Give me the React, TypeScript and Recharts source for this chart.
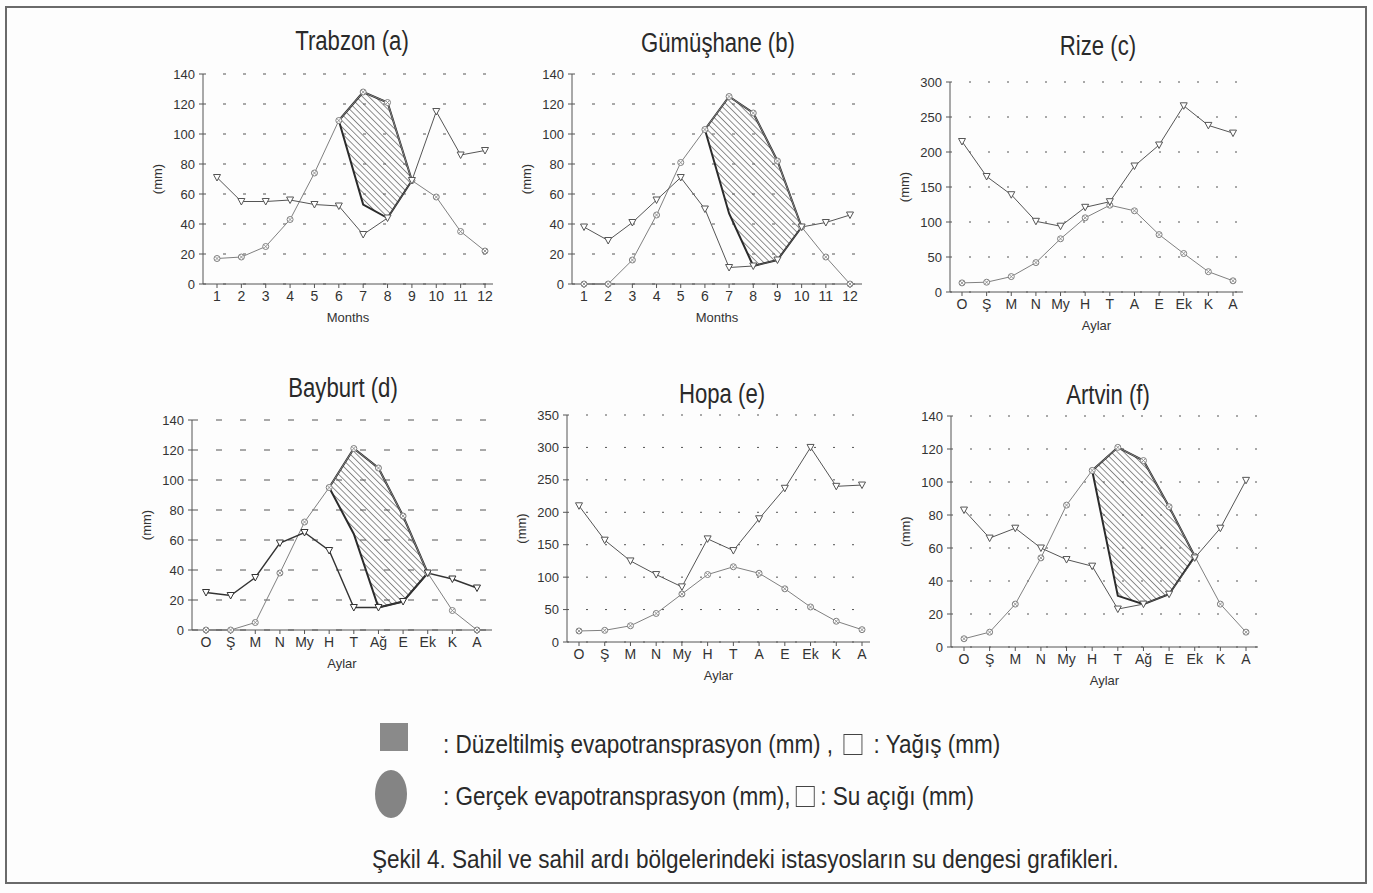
import { ComposedChart, Line, Area, XAxis, YAxis, CartesianGrid } from "recharts";

const MONTHS_NUM = ["1", "2", "3", "4", "5", "6", "7", "8", "9", "10", "11", "12"];
const AYLAR = ["O", "Ş", "M", "N", "My", "H", "T", "A", "E", "Ek", "K", "A"];
const AYLAR_AG = ["O", "Ş", "M", "N", "My", "H", "T", "Ağ", "E", "Ek", "K", "A"];

const TICKS_140 = [0, 20, 40, 60, 80, 100, 120, 140];
const TICKS_300 = [0, 50, 100, 150, 200, 250, 300];
const TICKS_350 = [0, 50, 100, 150, 200, 250, 300, 350];

// P = yağış, PET = düzeltilmiş evapotranspirasyon, AET = gerçek evapotranspirasyon
const TRABZON_P = [71, 55, 55, 56, 53, 52, 33, 44, 69, 115, 86, 89];
const TRABZON_PET = [17, 18, 25, 43, 74, 109, 128, 121, 69, 58, 35, 22];
const TRABZON_AET = [17, 18, 25, 43, 74, 109, 53, 44, 69, 58, 35, 22];

const GUMUS_P = [38, 29, 41, 56, 71, 50, 11, 12, 16, 38, 41, 46];
const GUMUS_PET = [0, 0, 16, 46, 81, 103, 125, 114, 82, 38, 18, 0];
const GUMUS_AET = [0, 0, 16, 46, 81, 103, 47, 12, 16, 38, 18, 0];

const RIZE_P = [215, 165, 139, 101, 94, 121, 129, 180, 210, 266, 238, 227];
const RIZE_PET = [13, 14, 22, 42, 76, 106, 124, 116, 82, 55, 29, 16];

const BAYBURT_P = [25, 23, 35, 58, 65, 53, 15, 15, 19, 38, 34, 28];
const BAYBURT_PET = [0, 0, 5, 38, 72, 95, 121, 108, 76, 38, 13, 0];
const BAYBURT_AET = [0, 0, 5, 38, 72, 95, 64, 15, 19, 38, 13, 0];

const HOPA_P = [210, 157, 125, 104, 85, 159, 141, 190, 237, 300, 240, 242];
const HOPA_PET = [17, 18, 25, 44, 74, 104, 116, 106, 82, 54, 32, 19];

const ARTVIN_P = [83, 66, 72, 60, 53, 49, 23, 26, 32, 54, 72, 101];
const ARTVIN_PET = [5, 9, 26, 54, 86, 107, 121, 113, 85, 55, 26, 9];
const ARTVIN_AET = [5, 9, 26, 54, 86, 107, 31, 26, 32, 55, 26, 9];

const SANS = "'Liberation Sans', Arial, sans-serif";

function TriDot({ cx, cy, color }: { cx?: number; cy?: number; color: string }) {
  if (cx == null || cy == null) return null;
  return (
    <path
      d={`M${cx - 3.5},${cy - 3} L${cx + 3.5},${cy - 3} L${cx},${cy + 3.5} Z`}
      fill="#fff"
      stroke={color}
      strokeWidth={1}
    />
  );
}

function CrossDot({ cx, cy }: { cx?: number; cy?: number }) {
  if (cx == null || cy == null) return null;
  return (
    <g>
      <circle cx={cx} cy={cy} r={3} fill="#fff" stroke="#808080" strokeWidth={1} />
      <path d={`M${cx - 2},${cy - 2} L${cx + 2},${cy + 2} M${cx + 2},${cy - 2} L${cx - 2},${cy + 2}`} stroke="#808080" strokeWidth={0.8} />
    </g>
  );
}

type Box = { l: number; t: number; r: number; b: number };

// Liberation Sans squeezed horizontally, close to the Arial Narrow of the scan
function Narrow({
  children,
  left,
  top,
  size,
  squeeze = 0.82,
  center = false,
  width,
}: {
  children: React.ReactNode;
  left: number;
  top: number;
  size: number;
  squeeze?: number;
  center?: boolean;
  width?: number;
}) {
  return (
    <div
      style={{
        position: "absolute",
        left,
        top,
        width,
        textAlign: center ? "center" : "left",
        fontFamily: SANS,
        fontSize: size,
        lineHeight: `${Math.round(size * 1.3)}px`,
        color: "#2a2a2a",
        whiteSpace: "nowrap",
        transform: `scaleX(${squeeze})`,
        transformOrigin: center ? "50% 50%" : "0 50%",
      }}
    >
      {children}
    </div>
  );
}

function Panel({
  id,
  title,
  tx,
  ty,
  labels,
  xName,
  p,
  pet,
  aet,
  ticks,
  box,
  padL,
  padR,
  dash,
  pColor = "#555",
}: {
  id: string;
  title: string;
  tx: number;
  ty: number;
  labels: string[];
  xName: string;
  p: number[];
  pet: number[];
  aet?: number[];
  ticks: number[];
  box: Box;
  padL: number;
  padR: number;
  dash: string;
  pColor?: string;
}) {
  const ML = 56, MT = 14, MR = 6, XH = 38, MB = 6;
  const yMax = ticks[ticks.length - 1];
  const def = (i: number) => !!aet && i >= 0 && i < pet.length && pet[i] > aet[i];
  const data = labels.map((_, i) => ({
    i,
    p: p[i],
    pet: pet[i],
    band: aet && (def(i) || def(i - 1) || def(i + 1)) ? [aet[i], pet[i]] : null,
  }));

  return (
    <>
      <Narrow left={tx - 150} top={ty - 18} width={300} size={27} center>
        {title}
      </Narrow>
      <div style={{ position: "absolute", left: box.l - ML, top: box.t - MT }}>
        <ComposedChart
          width={box.r - box.l + ML + MR}
          height={box.b - box.t + MT + XH + MB}
          data={data}
          margin={{ top: MT, right: MR, left: 0, bottom: MB }}
        >
          <defs>
            <pattern id={`hatch-${id}`} patternUnits="userSpaceOnUse" width={4.5} height={4.5} patternTransform="rotate(-45)">
              <line x1={0} y1={0} x2={0} y2={4.5} stroke="#555" strokeWidth={1.3} />
            </pattern>
          </defs>
          <CartesianGrid vertical={false} stroke="#555" strokeDasharray={dash} />
          <XAxis
            dataKey="i"
            scale="point"
            interval={0}
            padding={{ left: padL, right: padR }}
            height={XH}
            tickSize={4}
            tickMargin={3}
            tickFormatter={(v: number) => labels[v]}
            tick={{ fontSize: 14, fill: "#333", fontFamily: SANS }}
            stroke="#555"
            label={{ value: xName, position: "insideBottom", offset: 0, fontSize: 13, fill: "#333", fontFamily: SANS }}
          />
          <XAxis
            xAxisId="top"
            orientation="top"
            dataKey="i"
            scale="point"
            height={0}
            tick={false}
            tickLine={false}
            stroke="#555"
          />
          <YAxis
            domain={[0, yMax]}
            ticks={ticks}
            interval={0}
            width={ML}
            tickSize={4}
            tickMargin={4}
            tick={{ fontSize: 13, fill: "#333", fontFamily: SANS }}
            stroke="#555"
            label={{
              content: (lp: any) => {
                const vb = lp.viewBox || {};
                const x = (vb.x ?? 0) + 10;
                const y = (vb.y ?? 0) + (vb.height ?? 0) / 2;
                return (
                  <text x={x} y={y} transform={`rotate(-90, ${x}, ${y})`} textAnchor="middle" dominantBaseline="central" fontSize={13} fill="#333" fontFamily={SANS}>
                    (mm)
                  </text>
                );
              },
            }}
          />
          <YAxis
            yAxisId="right"
            orientation="right"
            domain={[0, yMax]}
            allowDataOverflow
            width={0}
            tick={false}
            tickLine={false}
            stroke="#555"
          />
          <Line
            dataKey="pet"
            type="linear"
            stroke="#808080"
            strokeWidth={1}
            dot={(d: any) => <CrossDot key={`e${d.index}`} cx={d.cx} cy={d.cy} />}
            isAnimationActive={false}
          />
          <Line
            dataKey="p"
            type="linear"
            stroke={pColor}
            strokeWidth={pColor === "#555" ? 1 : 1.4}
            dot={(d: any) => <TriDot key={`p${d.index}`} cx={d.cx} cy={d.cy} color={pColor} />}
            isAnimationActive={false}
          />
          {aet && (
            <Area
              dataKey="band"
              type="linear"
              stroke="#2b2b2b"
              strokeWidth={2}
              fill={`url(#hatch-${id})`}
              fillOpacity={1}
              dot={false}
              activeDot={false}
              isAnimationActive={false}
            />
          )}
        </ComposedChart>
      </div>
    </>
  );
}

function Square({ size, ml, mr }: { size: number; ml: number; mr: number }) {
  return (
    <span
      style={{
        display: "inline-block",
        width: size,
        height: size,
        border: "1.5px solid #444",
        verticalAlign: "-2px",
        marginLeft: ml,
        marginRight: mr,
        boxSizing: "border-box",
      }}
    />
  );
}

export default function App() {
  return (
    <div style={{ position: "absolute", left: 0, top: 0, width: 1373, height: 893, background: "#fdfdfd", overflow: "hidden" }}>
      <div
        style={{
          position: "absolute",
          left: 5,
          top: 6,
          width: 1362,
          height: 878,
          border: "2px solid #6a6a6a",
          boxSizing: "border-box",
        }}
      />

      <Panel id="a" title="Trabzon (a)" tx={352} ty={42} labels={MONTHS_NUM} xName="Months" p={TRABZON_P} pet={TRABZON_PET} aet={TRABZON_AET} ticks={TICKS_140} box={{ l: 203, t: 74, r: 493, b: 284 }} padL={14} padR={8} dash="3 17" />
      <Panel id="b" title="Gümüşhane (b)" tx={718} ty={44} labels={MONTHS_NUM} xName="Months" p={GUMUS_P} pet={GUMUS_PET} aet={GUMUS_AET} ticks={TICKS_140} box={{ l: 572, t: 74, r: 862, b: 284 }} padL={12} padR={12} dash="3 17" />
      <Panel id="c" title="Rize (c)" tx={1098} ty={47} labels={AYLAR} xName="Aylar" p={RIZE_P} pet={RIZE_PET} ticks={TICKS_300} box={{ l: 950, t: 82, r: 1243, b: 292 }} padL={12} padR={10} dash="2 17" />
      <Panel id="d" title="Bayburt (d)" tx={343} ty={389} labels={AYLAR_AG} xName="Aylar" p={BAYBURT_P} pet={BAYBURT_PET} aet={BAYBURT_AET} ticks={TICKS_140} box={{ l: 192, t: 420, r: 492, b: 630 }} padL={14} padR={15} dash="6 18" pColor="#333" />
      <Panel id="e" title="Hopa (e)" tx={722} ty={395} labels={AYLAR} xName="Aylar" p={HOPA_P} pet={HOPA_PET} ticks={TICKS_350} box={{ l: 567, t: 415, r: 870, b: 642 }} padL={12} padR={8} dash="2 17" />
      <Panel id="f" title="Artvin (f)" tx={1108} ty={396} labels={AYLAR_AG} xName="Aylar" p={ARTVIN_P} pet={ARTVIN_PET} aet={ARTVIN_AET} ticks={TICKS_140} box={{ l: 951, t: 416, r: 1258, b: 647 }} padL={13} padR={12} dash="2 17" />

      <div style={{ position: "absolute", left: 380, top: 723, width: 28, height: 28, background: "#8a8a8a" }} />
      <Narrow left={443} top={728} size={25} squeeze={0.9}>
        : Düzeltilmiş evapotransprasyon (mm) ,<Square size={21} ml={12} mr={12} />: Yağış (mm)
      </Narrow>
      <div style={{ position: "absolute", left: 375, top: 770, width: 32, height: 48, borderRadius: "50%", background: "#848484" }} />
      <Narrow left={443} top={780} size={25} squeeze={0.9}>
        : Gerçek evapotransprasyon (mm),<Square size={21} ml={6} mr={6} />: Su açığı (mm)
      </Narrow>
      <Narrow left={372} top={843} size={25} squeeze={0.9}>
        Şekil 4. Sahil ve sahil ardı bölgelerindeki istasyosların su dengesi grafikleri.
      </Narrow>
    </div>
  );
}
